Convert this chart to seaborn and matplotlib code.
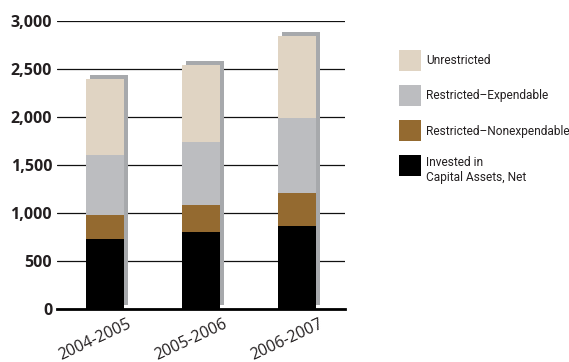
import matplotlib
matplotlib.use("Agg")
import matplotlib.pyplot as plt
import matplotlib.transforms as mtransforms
from matplotlib.patches import Rectangle
import numpy as np
import seaborn as sns

# Net position by fiscal year (millions)
years = ["2004-2005", "2005-2006", "2006-2007"]
invested = [726, 799, 861]
nonexpendable = [250, 281, 344]
expendable = [625, 656, 781]
unrestricted = [791, 802, 858]

# stacking order, bottom to top
layer_names = ["Invested in\nCapital Assets, Net", "Restricted–Nonexpendable",
               "Restricted–Expendable", "Unrestricted"]
layer_colors = ["#000000", "#946a30", "#bcbdc0", "#e0d4c3"]
shadow_color = "#a7a9ac"

yticks = [0, 500, 1000, 1500, 2000, 2500, 3000]
ytick_labels = ["0", "500", "1,000", "1,500", "2,000", "2,500", "3,000"]

sns.set_theme(style="white")
plt.rcParams["font.family"] = ["Open Sans", "DejaVu Sans"]
text_color = "#231f20"

W, H, DPI = 569, 362, 100
fig = plt.figure(figsize=(W / DPI, H / DPI), dpi=DPI)
ax = fig.add_axes([57 / W, 53.3 / H, 288 / W, 288 / H])

layers = np.array([invested, nonexpendable, expendable, unrestricted])
cumulative = np.cumsum(layers, axis=0)
totals = cumulative[-1]
bar_width = 0.406

# drop shadow: full stack height, nudged right and up
sns.barplot(x=years, y=totals, color=shadow_color, saturation=1, width=bar_width,
            linewidth=0, ax=ax)
shadow_shift = mtransforms.ScaledTranslation(4 / DPI, 4 / DPI, fig.dpi_scale_trans)
for p in ax.patches:
    p.set_transform(ax.transData + shadow_shift)

# stacked segments, drawn from the top of the stack downward
for i in reversed(range(len(layers))):
    sns.barplot(x=years, y=cumulative[i], color=layer_colors[i], saturation=1,
                width=bar_width, linewidth=0, ax=ax)

ax.set_xlim(-0.5, 2.5)
ax.set_ylim(0, 3000)
ax.set_xlabel("")
ax.set_ylabel("")

ax.set_axisbelow(True)
ax.yaxis.grid(True, color="#111111", linewidth=0.9)
ax.xaxis.grid(False)
for side in ["left", "right", "top"]:
    ax.spines[side].set_visible(False)
ax.spines["bottom"].set_color("#000000")
ax.spines["bottom"].set_linewidth(2.0)

ax.set_yticks(yticks, labels=ytick_labels)
ax.tick_params(axis="y", length=0, pad=3.5, labelsize=11.5, labelcolor=text_color)
for lab in ax.get_yticklabels():
    lab.set_fontweight("bold")

ax.set_xticks(range(len(years)), labels=years)
ax.tick_params(axis="x", length=0, pad=5.0, labelsize=11.5, labelcolor=text_color)
label_shift = mtransforms.ScaledTranslation(22 / DPI, 0, fig.dpi_scale_trans)
for lab in ax.get_xticklabels():
    lab.set_rotation(25)
    lab.set_ha("right")
    lab.set_va("top")
    lab.set_rotation_mode("anchor")
    lab.set_transform(lab.get_transform() + label_shift)

# legend key, top entry first, laid out in figure pixels
px = mtransforms.Affine2D().scale(1 / W, -1 / H).translate(0, 1) + fig.transFigure
legend_font = {"family": ["Roboto", "DejaVu Sans"], "size": 8.6, "color": text_color}
order = [3, 2, 1, 0]
for row, i in enumerate(order):
    top = 50 + 35 * row
    fig.add_artist(Rectangle((399, top), 22, 21, transform=px,
                             facecolor=layer_colors[i], edgecolor="none"))
    if "\n" in layer_names[i]:
        fig.text(426, top + 1.5, layer_names[i], transform=px, ha="left", va="top",
                 linespacing=1.15, **legend_font)
    else:
        fig.text(426, top + 11, layer_names[i], transform=px, ha="left",
                 va="center", **legend_font)

fig.savefig("out.png", dpi=DPI)
